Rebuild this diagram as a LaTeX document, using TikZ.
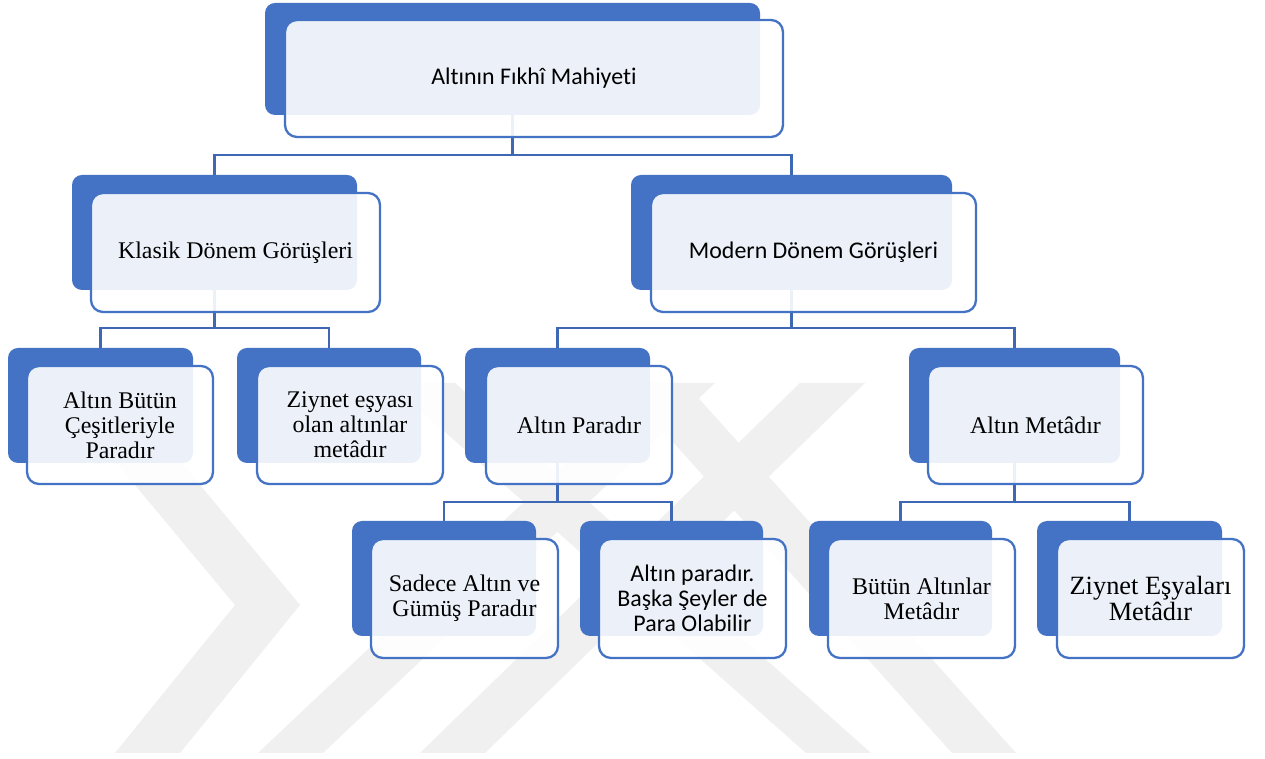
\documentclass[tikz,border=0pt]{standalone}
\usepackage{fontspec}
\setmainfont{Liberation Serif}
\newfontfamily\calibri[Ligatures=NoCommon]{Carlito}
\usetikzlibrary{backgrounds}
\definecolor{kutumavi}{HTML}{4472C4}
\definecolor{cizgimavi}{HTML}{3E68B3}
\definecolor{filigran}{HTML}{F0F0F0}
\tikzset{
  backbox/.style 2 args={rectangle,rounded corners=0.2cm,fill=kutumavi,
    minimum width=#1*0.02cm,minimum height=#2*0.02cm,inner sep=0pt,outer sep=0pt},
  frontbox/.style 2 args={rectangle,rounded corners=0.24cm,draw=kutumavi,line width=1.3pt,
    fill=white,fill opacity=0.9,text opacity=1,align=center,
    minimum width=#1*0.02cm,minimum height=#2*0.02cm,inner sep=0pt,outer sep=0pt,
    font=\fontsize{13.6}{14.2}\selectfont},
  link/.style={draw=cizgimavi,line width=1.3pt},
  wmark/.style={fill=filigran}
}
\begin{document}
\begin{tikzpicture}[x=0.02cm,y=-0.02cm]
	\useasboundingbox (0,0) rectangle (1265,759);
	% top
	\node[backbox={495}{112}] (top) at (512.5,59) {};
	\node[frontbox={498}{117},font=\calibri\fontsize{13.6}{14.2}\selectfont] (topt) at (534,78.5) {Altının Fıkhî Mahiyeti};
	% level one
	\node[backbox={285}{115}] (klasik) at (214.5,232.5) {};
	\node[frontbox={289}{119}] (klasikt) at (235.5,252.5) {Klasik Dönem Görüşleri};
	\node[backbox={321}{115}] (modern) at (791.5,232.5) {};
	\node[frontbox={325}{119},font=\calibri\fontsize{13.6}{14.2}\selectfont] (modernt) at (813.5,252.5) {Modern Dönem Görüşleri};
	% level two
	\node[backbox={185}{115}] (butun) at (100.5,405.5) {};
	\node[frontbox={186}{118}] (butunt) at (120,425) {Altın Bütün\\Çeşitleriyle\\Paradır};
	\node[backbox={184}{115}] (ziynet) at (329,405.5) {};
	\node[frontbox={186}{118}] (ziynett) at (350,425) {Ziynet eşyası\\olan altınlar\\metâdır};
	\node[backbox={185}{115}] (para) at (557.5,405.5) {};
	\node[frontbox={186}{118}] (parat) at (579,425) {Altın Paradır};
	\node[backbox={211}{115}] (meta) at (1014.5,405.5) {};
	\node[frontbox={215}{118}] (metat) at (1035.5,425) {Altın Metâdır};
	% level three
	\node[backbox={184}{115}] (sadece) at (444,578.5) {};
	\node[frontbox={187}{119}] (sadecet) at (464.5,598.5) {Sadece Altın ve\\Gümüş Paradır};
	\node[backbox={183}{115}] (baska) at (671.5,578.5) {};
	\node[frontbox={187}{119},font=\calibri\fontsize{13.6}{14.2}\selectfont] (baskat) at (692.5,598.5) {Altın paradır.\\Başka Şeyler de\\Para Olabilir};
	\node[backbox={183}{115}] (tumu) at (900.5,578.5) {};
	\node[frontbox={187}{119}] (tumut) at (921.5,598.5) {Bütün Altınlar\\Metâdır};
	\node[backbox={185}{115}] (esya) at (1129.5,578.5) {};
	\node[frontbox={187}{119},font=\fontsize{15}{14.8}\selectfont] (esyat) at (1150.5,598.5) {Ziynet Eşyaları\\Metâdır};
	\begin{scope}[on background layer]
		\fill[white] (0,0) rectangle (1265,759);
		% watermark
		\fill[wmark] (50,383) -- (115,383) -- (300,605) -- (180,753) -- (115,753) -- (235,605) -- cycle;
		\fill[wmark] (650,383) -- (715,383) -- (323,753) -- (258,753) -- cycle;
		\fill[wmark] (800,383) -- (865,383) -- (485,753) -- (420,753) -- cycle;
		\fill[wmark] (390,383) -- (455,383) -- (871,753) -- (806,753) -- cycle;
		\fill[wmark] (620,383) -- (685,383) -- (1016,753) -- (952,753) -- cycle;
		% connectors
		\coordinate (barone) at (0,155);
		\coordinate (bartwo) at (0,328);
		\coordinate (barthree) at (0,502);
		\draw[link] (top.south) -- (top.south |- barone) -| (klasik.north);
		\draw[link] (top.south |- barone) -| (modern.north);
		\draw[link] (klasik.south) -- (klasik.south |- bartwo) -| (butun.north);
		\draw[link] (klasik.south |- bartwo) -| (ziynet.north);
		\draw[link] (modern.south) -- (modern.south |- bartwo) -| (para.north);
		\draw[link] (modern.south |- bartwo) -| (meta.north);
		\draw[link] (para.south) -- (para.south |- barthree) -| (sadece.north);
		\draw[link] (para.south |- barthree) -| (baska.north);
		\draw[link] (meta.south) -- (meta.south |- barthree) -| (tumu.north);
		\draw[link] (meta.south |- barthree) -| (esya.north);
	\end{scope}
\end{tikzpicture}
\end{document}
